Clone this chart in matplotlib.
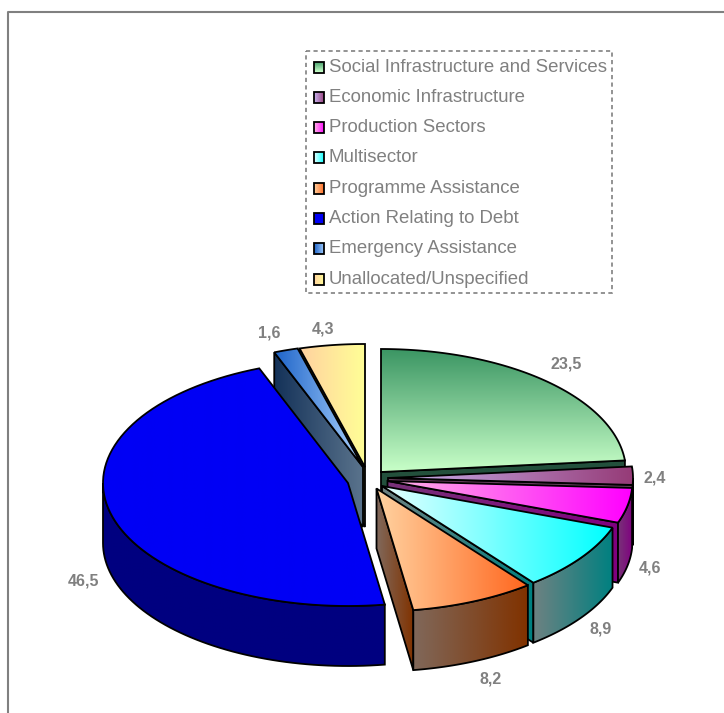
import numpy as np
import matplotlib as mpl
mpl.use("Agg")
import matplotlib.pyplot as plt
from matplotlib.patches import Polygon, Rectangle

categories = ["Social Infrastructure and Services", "Economic Infrastructure", "Production Sectors",
              "Multisector", "Programme Assistance", "Action Relating to Debt",
              "Emergency Assistance", "Unallocated/Unspecified"]
values = [23.5, 2.4, 4.6, 8.9, 8.2, 46.5, 1.6, 4.3]

# colours of each slice: top surface (start, end), side wall (left, right)
top_a = ["#3c9664", "#c8b4f0", "#ffb4e6", "#e6ffff", "#ffd2a0", "#0000f5", "#1e64c8", "#ffd2a0"]
top_b = ["#c8ffc8", "#963c78", "#ff00ff", "#00ffff", "#ff661e", "#0000f5", "#aad2ff", "#ffff96"]
wall_a = ["#23503c", "#643c5a", "#783278", "#6e8282", "#80685a", "#000080", "#143259", "#6e6e32"]
wall_b = ["#23503c", "#643c5a", "#800080", "#008080", "#803200", "#000080", "#5a738c", "#6e6e32"]
vertical = [True, False, False, False, False, False, False, False]

# where each exploded slice has its tip, in pixels
tips = [(381, 472), (388, 478), (387.5, 481), (382, 486), (376.5, 488.5), (348, 483), (363, 467), (365, 467)]
label_xy = [(566, 364), (655, 478), (650, 568), (601, 629), (491, 679), (84, 581), (269, 333), (323, 329)]
draw_order = [7, 6, 0, 1, 2, 3, 4, 5]

rx = 245
ry = 123
depth = 60
grey = "#808080"

plt.rcParams["font.family"] = ["Liberation Sans", "DejaVu Sans"]
fig = plt.figure(figsize=(7.24, 7.13), dpi=100)
ax = fig.add_axes([0, 0, 1, 1])
ax.axis("off")


def fill(verts, c0, c1, z, vert=False):
    # polygon filled with a two colour gradient, black outline on top
    verts = np.asarray(verts)
    x0, y0 = verts.min(axis=0)
    x1, y1 = verts.max(axis=0)
    t = np.linspace(0, 1, 64)[:, None]
    grad = (1 - t) * np.array(mpl.colors.to_rgb(c0)) + t * np.array(mpl.colors.to_rgb(c1))
    grad = grad[:, None, :] if vert else grad[None, :, :]
    im = ax.imshow(grad, extent=(x0, x1, y1, y0), origin="upper", aspect="auto",
                   interpolation="bilinear", zorder=z)
    im.set_clip_path(Polygon(verts, closed=True, transform=ax.transData))
    ax.add_patch(Polygon(verts, closed=True, fill=False, ec="black", lw=1.3, zorder=z + 0.1))


fr = np.array(values) / sum(values) * 360
ends = np.cumsum(fr)
starts = ends - fr
z = 2
for i in draw_order:
    cx, cy = tips[i]
    th0, th1 = starts[i], ends[i]

    def pts(th):
        a = np.radians(th)
        return np.column_stack([cx + rx * np.sin(a), cy - ry * np.cos(a)])

    drop = np.array([0, depth])
    tip = np.array([[cx, cy]])
    # cut faces, only the ones turned to the viewer
    if th0 > 180:
        e = pts(np.array([th0]))
        fill(np.vstack([tip, e, e + drop, tip + drop]), wall_a[i], wall_b[i], z)
        z += 1
    if th1 < 180:
        e = pts(np.array([th1]))
        fill(np.vstack([tip, e, e + drop, tip + drop]), wall_a[i], wall_b[i], z)
        z += 1
    # outer rim
    a, b = max(th0, 90), min(th1, 270)
    if a < b:
        arc = pts(np.linspace(a, b, 60))
        fill(np.vstack([arc, (arc + drop)[::-1]]), wall_a[i], wall_b[i], z)
        z += 1
    # top surface
    fill(np.vstack([tip, pts(np.linspace(th0, th1, 80))]), top_a[i], top_b[i], z, vertical[i])
    z += 1

for v, (x, y) in zip(values, label_xy):
    ax.text(x, y, f"{v:.1f}".replace(".", ","), color=grey, fontsize=11.5, fontweight="bold",
            ha="center", va="center", zorder=z)

# legend
ax.add_patch(Rectangle((306, 51), 306, 242, fill=False, ec=grey, lw=1.2, ls=(0, (2.5, 2)), zorder=z))
for i, name in enumerate(categories):
    y = 67 + i * 30.3
    sq = [(313.5, y - 5.5), (324, y - 5.5), (324, y + 5.5), (313.5, y + 5.5)]
    fill(sq, top_a[i], top_b[i], z, vertical[i])
    ax.text(329, y, name, color=grey, fontsize=13.4, ha="left", va="center", zorder=z)

# picture border, top and left only
ax.plot([8, 8, 724], [713, 12, 12], color="#808080", lw=1.5, zorder=z)

ax.set_xlim(0, 724)
ax.set_ylim(713, 0)
fig.savefig("out.png", dpi=100)
